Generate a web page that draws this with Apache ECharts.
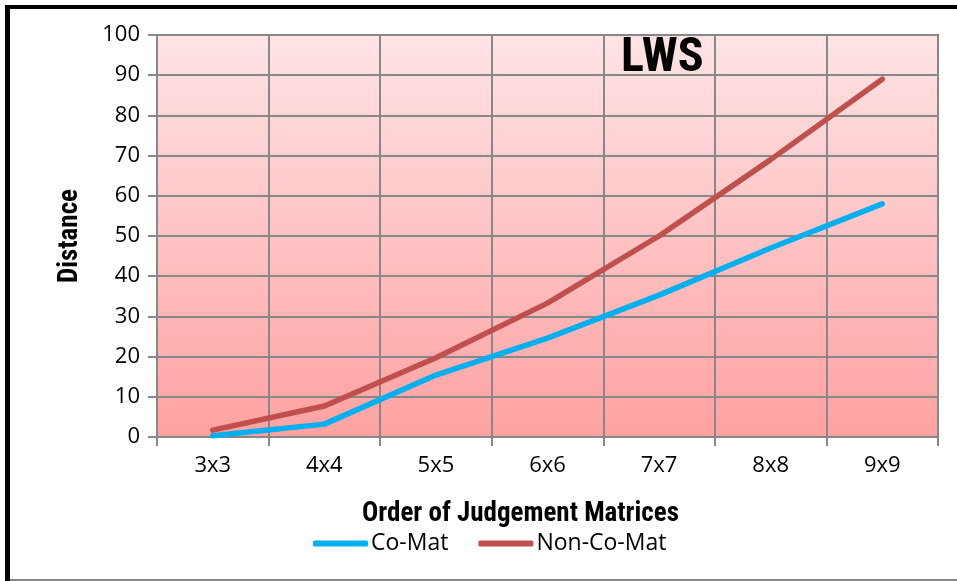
<!DOCTYPE html>
<html>
<head>
<meta charset="utf-8">
<script src="https://cdn.jsdelivr.net/npm/echarts@6/dist/echarts.min.js"></script>
<style>
  html, body { margin: 0; padding: 0; background: #fff; }
  #chart { width: 957px; height: 581px; }
</style>
</head>
<body>
<div id="chart"></div>
<script>
var categories = ['3x3', '4x4', '5x5', '6x6', '7x7', '8x8', '9x9'];
var coMat = [0.3, 3.2, 15.4, 24.6, 35.3, 47, 58];
var nonCoMat = [1.7, 7.7, 19.7, 33.3, 50, 69, 89];

var narrow = "'Liberation Sans Narrow', 'Roboto Condensed', 'Liberation Sans', sans-serif";
var regular = "'Open Sans', 'Noto Sans', sans-serif";

var myChart = echarts.init(document.getElementById('chart'));
var option = {
    animation: false,
    backgroundColor: '#fff',
    title: {
        text: 'LWS',
        left: 616, top: 30,
        textStyle: { fontFamily: narrow, fontWeight: 'bold', fontSize: 48, color: '#000' }
    },
    graphic: [
        { type: 'rect', shape: { x: 5, y: 5, width: 5, height: 576 }, style: { fill: '#000' } },
        { type: 'rect', shape: { x: 5, y: 5, width: 952, height: 4 }, style: { fill: '#000' } },
        { type: 'rect', shape: { x: 10, y: 579, width: 947, height: 2 }, style: { fill: '#888' } }
    ],
    grid: {
        left: 157, right: 19, top: 35, bottom: 144,
        show: true,
        borderColor: '#c0504d', borderWidth: 2,
        backgroundColor: new echarts.graphic.LinearGradient(0, 0, 0, 1, [
            { offset: 0, color: '#ffe4e6' },
            { offset: 1, color: '#ffa1a1' }
        ])
    },
    legend: {
        data: ['Co-Mat', 'Non-Co-Mat'],
        top: 527, left: 308,
        itemWidth: 55, itemHeight: 6, itemGap: 30,
        icon: 'roundRect',
        textStyle: { fontFamily: regular, fontSize: 23, color: '#000', padding: [0, 0, 0, -2] }
    },
    xAxis: {
        type: 'category',
        data: categories,
        boundaryGap: true,
        name: 'Order of Judgement Matrices',
        nameLocation: 'middle', nameGap: 64,
        nameTextStyle: { fontFamily: narrow, fontWeight: 'bold', fontSize: 27, color: '#000', padding: [0, 54, 0, 0] },
        axisLine: { lineStyle: { color: '#888', width: 2 } },
        axisTick: { show: true, length: 9, lineStyle: { color: '#888', width: 2 } },
        axisLabel: { margin: 18, fontFamily: regular, fontSize: 22, color: '#000' },
        splitLine: { show: true, lineStyle: { color: '#888', width: 2 } }
    },
    yAxis: {
        type: 'value',
        min: 0, max: 100, interval: 10,
        name: 'Distance',
        nameLocation: 'middle', nameGap: 73, nameRotate: 90,
        nameTextStyle: { fontFamily: narrow, fontWeight: 'bold', fontSize: 27, color: '#000' },
        axisLine: { show: true, lineStyle: { color: '#888', width: 2 } },
        axisTick: { show: true, length: 9, lineStyle: { color: '#888', width: 2 } },
        axisLabel: { margin: 17, fontFamily: regular, fontSize: 22, color: '#000' },
        splitLine: { show: true, lineStyle: { color: '#888', width: 2 } }
    },
    series: [
        {
            name: 'Co-Mat', type: 'line', data: coMat,
            showSymbol: false, symbol: 'none',
            itemStyle: { color: '#00b0f0' },
            lineStyle: { color: '#00b0f0', width: 5.5, cap: 'round' }
        },
        {
            name: 'Non-Co-Mat', type: 'line', data: nonCoMat,
            showSymbol: false, symbol: 'none',
            itemStyle: { color: '#c0504d' },
            lineStyle: { color: '#c0504d', width: 5.5, cap: 'round' }
        }
    ]
};
myChart.setOption(option);
</script>
</body>
</html>
